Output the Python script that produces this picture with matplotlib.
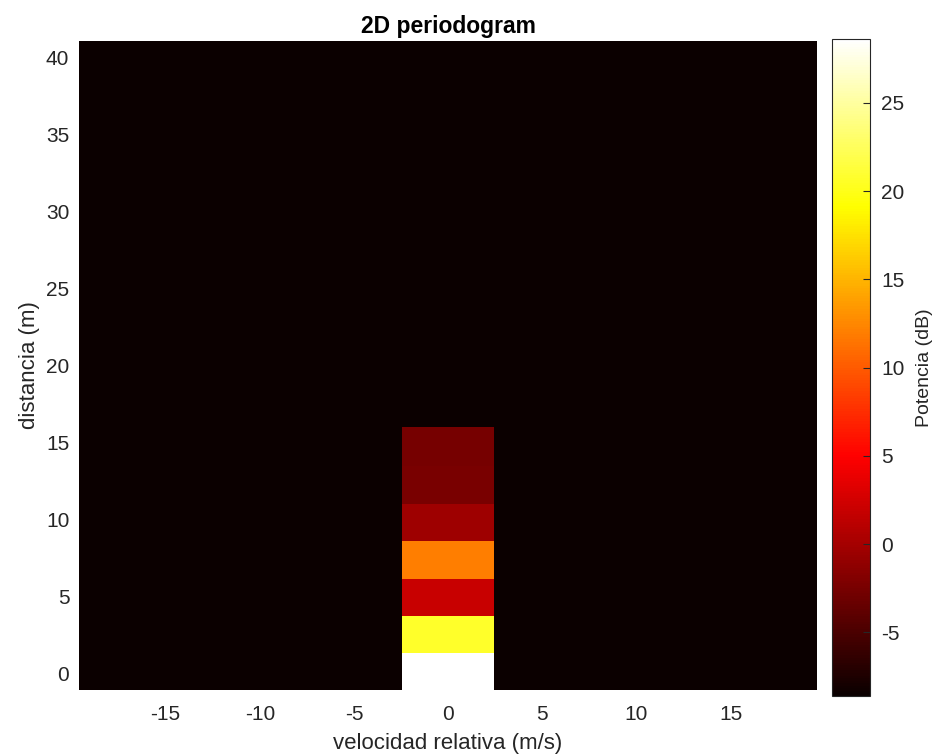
import numpy as np
import matplotlib
matplotlib.use("Agg")
import matplotlib.pyplot as plt

plt.rcParams['font.family'] = ['Liberation Sans', 'DejaVu Sans']
plt.rcParams['axes.unicode_minus'] = False

# Bordes de las celdas (velocidad y distancia)
vel_bordes = [-22.1, -17.2, -12.3, -7.4, -2.45, 2.45, 7.4, 12.3, 17.2, 22.1]
dist_bordes = [-1.1, 1.3, 3.7, 6.1, 8.55, 10.95, 13.45, 15.95, 18.35, 20.75,
               23.2, 25.6, 28.0, 30.4, 32.85, 35.25, 37.65, 40.05, 42.45]

# Potencia (dB): columna central (v = 0) desde distancia 0 hacia arriba
potencia_centro = [28.6, 20.7, 2.0, 11.9, -0.45, -2.4, -2.6,
                   -8.6, -8.6, -8.6, -8.6, -8.6, -8.6, -8.6, -8.6, -8.6, -8.6, -8.6]
potencia_fondo = -8.6
col_centro = 4

cbar_ticks = [-5, 0, 5, 10, 15, 20, 25]
x_ticks = [-15, -10, -5, 0, 5, 10, 15]
y_ticks = [0, 5, 10, 15, 20, 25, 30, 35, 40]

# matriz de potencia
P = np.full((len(dist_bordes) - 1, len(vel_bordes) - 1), potencia_fondo)
P[:, col_centro] = potencia_centro

gris = '#262626'
fig = plt.figure(figsize=(9.32, 7.55), dpi=100)
ax = fig.add_axes([0.0848, 0.0861, 0.792, 0.8596])
cax = fig.add_axes([0.8927, 0.0781, 0.0408, 0.870])

m = ax.pcolormesh(vel_bordes, dist_bordes, P, cmap='hot', vmin=-8.6, vmax=28.6,
                  shading='flat')
ax.set_xlim(-19.6, 19.6)
ax.set_ylim(-1.1, 41.05)
ax.set_xticks(x_ticks)
ax.set_yticks(y_ticks)
ax.tick_params(direction='in', length=0, labelsize=15, colors=gris)
ax.tick_params(axis='x', pad=11)
ax.tick_params(axis='y', pad=7)
for s in ax.spines.values():
    s.set_visible(False)

ax.set_title('2D periodogram', fontsize=16.5, fontweight='bold', color='black', pad=6)
ax.set_xlabel('velocidad relativa (m/s)', fontsize=16, color=gris, labelpad=6)
ax.set_ylabel('distancia (m)', fontsize=16, color=gris, labelpad=4)

cb = fig.colorbar(m, cax=cax)
cb.set_ticks(cbar_ticks)
cb.ax.tick_params(direction='in', length=5, labelsize=15, colors=gris, pad=8)
cb.outline.set_edgecolor(gris)
cb.outline.set_linewidth(0.8)
cb.set_label('Potencia (dB)', fontsize=14, color=gris, labelpad=8)

fig.savefig('out.png', dpi=100)
